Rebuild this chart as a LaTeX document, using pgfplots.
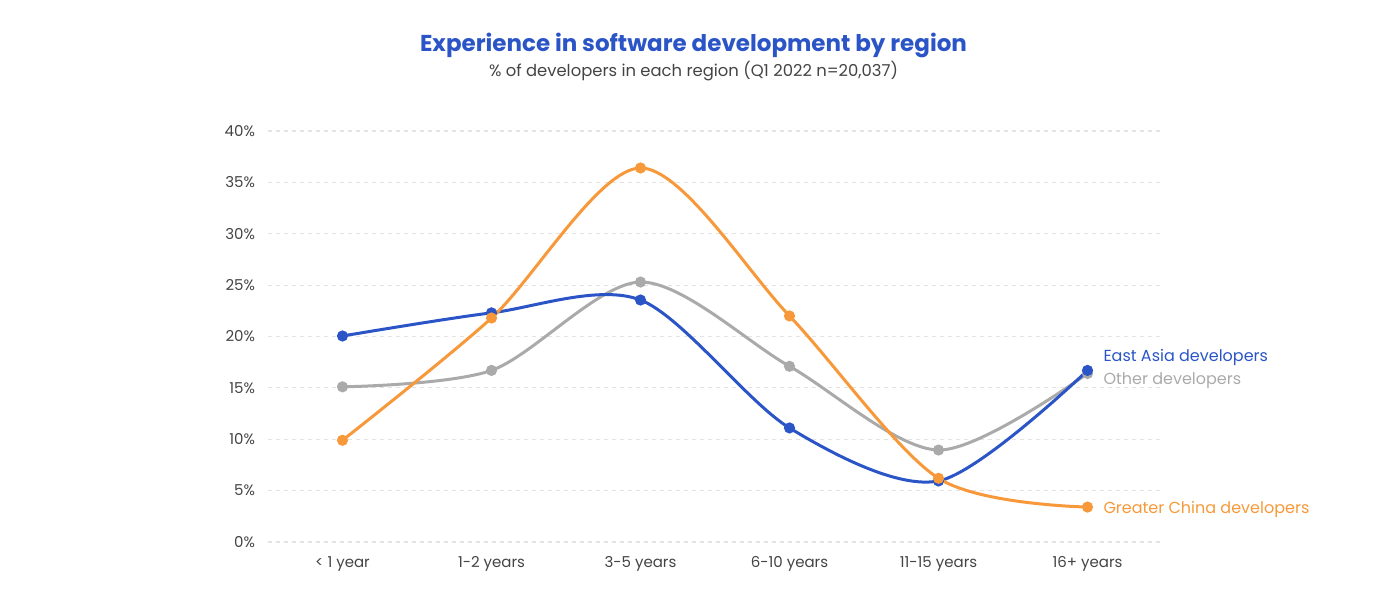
\documentclass[border=0pt]{standalone}
\usepackage{fontspec}
\setmainfont{Poppins}
\usepackage{pgfplots}
\pgfplotsset{compat=1.18}
\definecolor{ceast}{HTML}{2B55C6}
\definecolor{cchina}{HTML}{F7993A}
\definecolor{cother}{HTML}{AAAAAA}
\definecolor{ctext}{HTML}{444444}
\definecolor{cgrid}{HTML}{E3E3E3}
\begin{document}
\begin{tikzpicture}
\useasboundingbox (0pt,0pt) rectangle (693.5pt,302.5pt);
\node[font=\fontsize{11.5}{13}\selectfont\bfseries, text=ceast] at (346.75pt,280pt) {Experience in software development by region};
\node[font=\fontsize{8.2}{10}\selectfont, text=ctext] at (346.75pt,267pt) {\% of developers in each region (Q1 2022 n=20,037)};
\begin{axis}[
  at={(134pt,31.5pt)}, anchor=south west,
  scale only axis, width=447pt, height=205.5pt,
  xmin=-0.5, xmax=5.5, ymin=0, ymax=40,
  axis line style={draw=none},
  xtick={0,1,2,3,4,5},
  xticklabels={{< 1 year},{1-2 years},{3-5 years},{6-10 years},{11-15 years},{16+ years}},
  ytick={0,5,...,40},
  yticklabel={\pgfmathprintnumber{\tick}\%},
  /pgf/number format/assume math mode=true,
  tick style={draw=none},
  ticklabel style={font=\fontsize{7.5}{9}\selectfont, text=ctext},
  xticklabel style={yshift=-0.5pt, text height=1.6ex, text depth=0.4ex},
  yticklabel style={xshift=-3pt},
  ymajorgrids, grid style={draw=cgrid, line width=0.6pt, dash pattern=on 2pt off 2pt},
  clip=false,
]
\addplot[cother, line width=1.5pt, smooth, mark=*, mark size=2pt] coordinates {
 (0,15.1) (1,16.7) (2,25.3) (3,17.1) (4,8.95) (5,16.4)};
\addplot[ceast, line width=1.5pt, smooth, mark=*, mark size=2pt] coordinates {
 (0,20.05) (1,22.3) (2,23.55) (3,11.1) (4,5.94) (5,16.7)};
\addplot[cchina, line width=1.5pt, smooth, mark=*, mark size=2pt] coordinates {
 (0,9.9) (1,21.8) (2,36.4) (3,22.0) (4,6.2) (5,3.4)};
\node[anchor=west, text=ceast, font=\fontsize{8}{10}\selectfont] at (axis cs:5.06,18.0) {East Asia developers};
\node[anchor=west, text=cother, font=\fontsize{8}{10}\selectfont] at (axis cs:5.06,15.7) {Other developers};
\node[anchor=west, text=cchina, font=\fontsize{8}{10}\selectfont] at (axis cs:5.06,3.2) {Greater China developers};
\end{axis}
\end{tikzpicture}
\end{document}
